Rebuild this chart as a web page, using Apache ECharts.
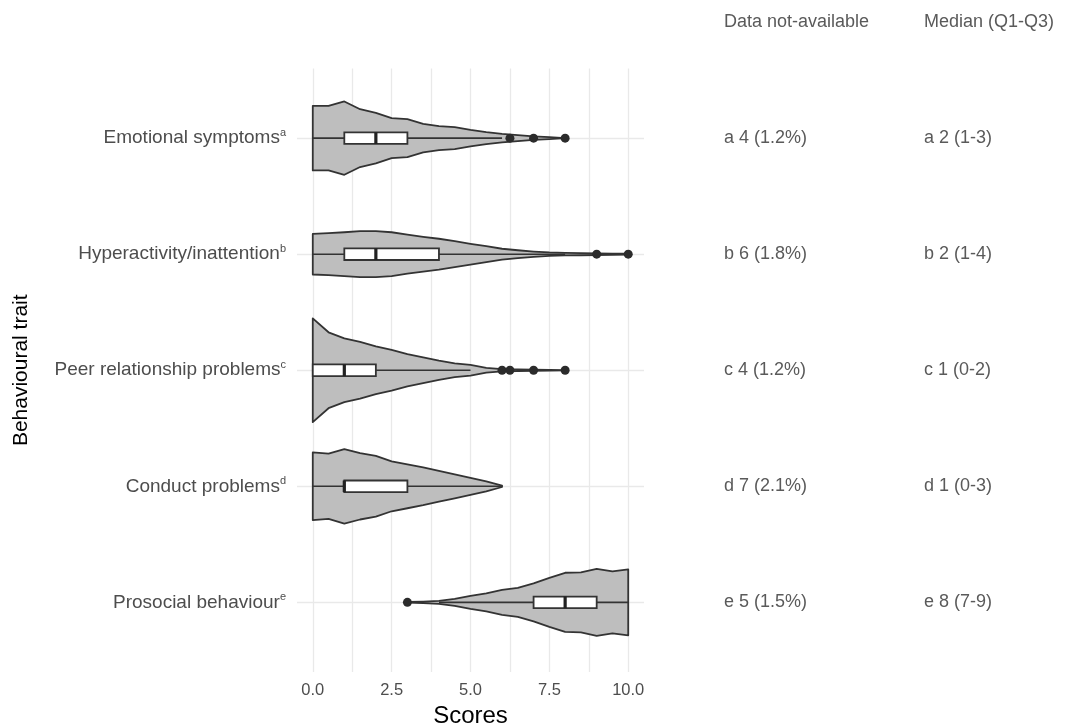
<!DOCTYPE html>
<html>
<head>
<meta charset="utf-8">
<title>Behavioural traits</title>
<script src="https://cdn.jsdelivr.net/npm/echarts@6/dist/echarts.min.js"></script>
<style>
    html, body { margin: 0; padding: 0; background: #fff; }
    #chart { width: 1068px; height: 724px; }
</style>
</head>
<body>
<div id="chart"></div>
<script>
    // rows, top to bottom
    const categories = ['Emotional symptoms', 'Hyperactivity/inattention', 'Peer relationship problems', 'Conduct problems', 'Prosocial behaviour'];
    const footnotes = ['a', 'b', 'c', 'd', 'e'];
    const missingText = ['a 4 (1.2%)', 'b 6 (1.8%)', 'c 4 (1.2%)', 'd 7 (2.1%)', 'e 5 (1.5%)'];
    const medianText = ['a 2 (1-3)', 'b 2 (1-4)', 'c 1 (0-2)', 'd 1 (0-3)', 'e 8 (7-9)'];
    const xTicks = [0, 2.5, 5, 7.5, 10];
    const xGrid = [0, 1.25, 2.5, 3.75, 5, 6.25, 7.5, 8.75, 10];
    const rows = [1, 2, 3, 4, 5];

    // [whisker low, Q1, median, Q3, whisker high]
    const boxStats = [
        [0, 1, 2, 3, 6],
        [0, 1, 2, 4, 8],
        [0, 0, 1, 2, 5],
        [0, 1, 1, 3, 6],
        [4, 7, 8, 9, 10]
    ];

    // outliers: [score, row]
    const outliers = [
        [6.25, 1], [7, 1], [8, 1],
        [9, 2], [10, 2],
        [6, 3], [6.25, 3], [7, 3], [8, 3],
        [3, 5]
    ];

    // violin half width (share of one row), every 0.5 score from violinStart
    const violinStart = [0, 0, 0, 0, 3];
    const emotionalWidth = [0.278, 0.278, 0.316, 0.249, 0.218, 0.172, 0.163, 0.123, 0.103, 0.095, 0.071, 0.052, 0.037, 0.026, 0.015, 0.009, 0];
    const hyperWidth = [0.175, 0.181, 0.189, 0.198, 0.198, 0.189, 0.168, 0.150, 0.133, 0.112, 0.089, 0.069, 0.047, 0.034, 0.023, 0.015, 0.011, 0.009, 0.007, 0.005, 0.004];
    const peerWidth = [0.447, 0.327, 0.275, 0.245, 0.206, 0.176, 0.138, 0.110, 0.082, 0.060, 0.046, 0.021, 0.009, 0.007, 0.005, 0.003, 0];
    const conductWidth = [0.292, 0.281, 0.321, 0.286, 0.262, 0.215, 0.189, 0.163, 0.133, 0.103, 0.073, 0.043, 0.006];
    const prosocialWidth = [0.003, 0.007, 0.013, 0.030, 0.056, 0.077, 0.107, 0.125, 0.163, 0.211, 0.255, 0.258, 0.288, 0.267, 0.284];
    const violinWidths = [emotionalWidth, hyperWidth, peerWidth, conductWidth, prosocialWidth];

    const font = 'Liberation Sans';
    const gridColor = '#e9e9e9';
    const lineColor = '#333333';

    function renderViolin(params, api) {
        let i = params.dataIndex;
        let row = rows[i];
        let band = api.size([0, 1])[1];
        let top = [];
        let bottom = [];
        violinWidths[i].forEach((w, k) => {
            let p = api.coord([violinStart[i] + k * 0.5, row]);
            top.push([p[0], p[1] - w * band]);
            bottom.unshift([p[0], p[1] + w * band]);
        });
        let s = boxStats[i];
        let lo = api.coord([s[0], row]);
        let q1 = api.coord([s[1], row]);
        let md = api.coord([s[2], row]);
        let q3 = api.coord([s[3], row]);
        let hi = api.coord([s[4], row]);
        let bh = 0.05 * band;
        return {
            type: 'group',
            children: [
                {
                    type: 'polygon',
                    shape: {points: top.concat(bottom)},
                    style: {fill: '#bebebe', stroke: lineColor, lineWidth: 1.8, lineJoin: 'round'}
                },
                {
                    type: 'line',
                    shape: {x1: lo[0], y1: lo[1], x2: hi[0], y2: hi[1]},
                    style: {stroke: lineColor, lineWidth: 1.6}
                },
                {
                    type: 'rect',
                    shape: {x: q1[0], y: q1[1] - bh, width: q3[0] - q1[0], height: 2 * bh},
                    style: {fill: '#fff', stroke: lineColor, lineWidth: 1.8}
                },
                {
                    type: 'line',
                    shape: {x1: md[0], y1: md[1] - bh, x2: md[0], y2: md[1] + bh},
                    style: {stroke: '#222', lineWidth: 3.2}
                }
            ]
        };
    }

    let rightAxis = (texts, offset, name) => ({
        type: 'value',
        position: 'right',
        offset: offset,
        min: 0.4,
        max: 5.6,
        inverse: true,
        name: name,
        nameLocation: 'start',
        nameGap: 37,
        nameTextStyle: {fontFamily: font, fontSize: 18, color: '#5a5a5a', align: 'left', padding: [0, 0, 0, 80]},
        axisLine: {show: false},
        axisTick: {show: false, customValues: rows},
        splitLine: {show: false},
        axisLabel: {
            margin: 80,
            customValues: rows,
            fontFamily: font,
            fontSize: 18,
            color: '#5a5a5a',
            formatter: v => texts[Math.round(v) - 1]
        }
    });

    let option = {
        animation: false,
        grid: {left: 297, right: 424, top: 68.5, bottom: 52, containLabel: false, outerBoundsMode: 'none'},
        xAxis: {
            type: 'value',
            min: -0.5,
            max: 10.5,
            name: 'Scores',
            nameLocation: 'middle',
            nameGap: 27,
            nameTextStyle: {fontFamily: font, fontSize: 24, color: '#000'},
            axisLine: {show: false},
            axisTick: {show: false, customValues: xGrid},
            splitLine: {show: true, lineStyle: {color: gridColor, width: 1.3}},
            axisLabel: {
                customValues: xTicks,
                margin: 10,
                fontFamily: font,
                fontSize: 16.5,
                color: '#4d4d4d',
                formatter: v => v.toFixed(1)
            }
        },
        yAxis: [
            {
                type: 'value',
                min: 0.4,
                max: 5.6,
                inverse: true,
                name: 'Behavioural trait',
                nameLocation: 'middle',
                nameRotate: 90,
                nameGap: 265,
                nameTextStyle: {fontFamily: font, fontSize: 21, color: '#000'},
                axisLine: {show: false},
                axisTick: {show: false, customValues: rows},
                splitLine: {show: true, lineStyle: {color: gridColor, width: 1.3}},
                axisLabel: {
                    customValues: rows,
                    margin: 11,
                    formatter: v => `{n|${categories[Math.round(v) - 1]}}{s|${footnotes[Math.round(v) - 1]}}`,
                    rich: {
                        n: {fontFamily: font, fontSize: 19, color: '#4d4d4d', lineHeight: 22},
                        s: {fontFamily: font, fontSize: 11, color: '#4d4d4d', verticalAlign: 'top', lineHeight: 22}
                    }
                }
            },
            rightAxis(missingText, 0, 'Data not-available'),
            rightAxis(medianText, 200, 'Median (Q1-Q3)')
        ],
        series: [
            {
                type: 'custom',
                renderItem: renderViolin,
                encode: {x: 0, y: 1},
                data: boxStats.map((s, i) => [s[2], rows[i]]),
                z: 2
            },
            {
                type: 'scatter',
                data: outliers,
                symbolSize: 9,
                itemStyle: {color: '#2b2b2b', opacity: 1},
                z: 3
            }
        ]
    };

    let chart = echarts.init(document.getElementById('chart'));
    chart.setOption(option);
</script>
</body>
</html>
